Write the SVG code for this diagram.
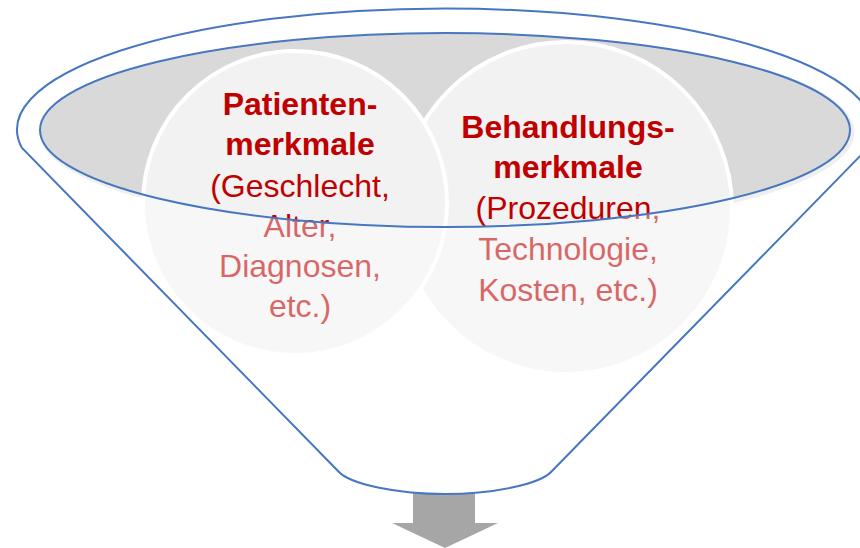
<svg xmlns="http://www.w3.org/2000/svg" width="860" height="548" viewBox="0 0 860 548">
<style>
.edge{fill:none;stroke:#4677c0;stroke-width:2}
.circ{fill:#f2f2f2;stroke:#ffffff;stroke-width:4}
.t{font-family:"Liberation Sans",Arial,sans-serif;fill:#c00000;text-anchor:middle}
.b{font-weight:bold;font-size:32px}
.r{font-size:32px}
</style>
<rect width="860" height="548" fill="#ffffff"/>
<g id="arrow">
<polygon points="413,493 475,493 475,523 498,523 445,548 392,523 413,523" fill="#a6a6a6"/>
</g>
<g id="funnel">
<path d="M22,148 A428,121 0 1 1 868,148 L552,471 C540,485 490,494 445,494 C400,494 350,485 338,471 Z" fill="#ffffff"/>
<ellipse cx="447" cy="132" rx="405" ry="97" fill="none" stroke="#e4e4e4" stroke-width="5"/>
<ellipse cx="445" cy="130" rx="405" ry="97" fill="#d9d9d9"/>
</g>
<g id="node-behandlung">
<circle class="circ" cx="566" cy="208" r="166"/>
<text class="t b" x="568" y="138">Behandlungs-</text>
<text class="t b" x="568" y="178">merkmale</text>
<text class="t r" x="568" y="219">(Prozeduren,</text>
<text class="t r" x="568" y="260">Technologie,</text>
<text class="t r" x="568" y="301">Kosten, etc.)</text>
</g>
<g id="node-patient">
<circle class="circ" cx="295" cy="203" r="152"/>
<text class="t b" x="300" y="115">Patienten-</text>
<text class="t b" x="300" y="155">merkmale</text>
<text class="t r" x="300" y="197">(Geschlecht,</text>
<text class="t r" x="300" y="237">Alter,</text>
<text class="t r" x="300" y="277">Diagnosen,</text>
<text class="t r" x="300" y="317">etc.)</text>
</g>
<g id="funnel-front">
<path d="M22,148 A428,121 0 1 1 868,148 L552,471 C540,485 490,494 445,494 C400,494 350,485 338,471 Z M40,130 A405,97 0 1 0 850,130 A405,97 0 1 0 40,130 Z" fill="#ffffff" fill-opacity="0.4" fill-rule="evenodd"/>
<path class="edge" d="M22,148 A428,121 0 1 1 868,148 L552,471 C540,485 490,494 445,494 C400,494 350,485 338,471 Z"/>
<ellipse class="edge" cx="445" cy="130" rx="405" ry="97"/>
</g>
</svg>
